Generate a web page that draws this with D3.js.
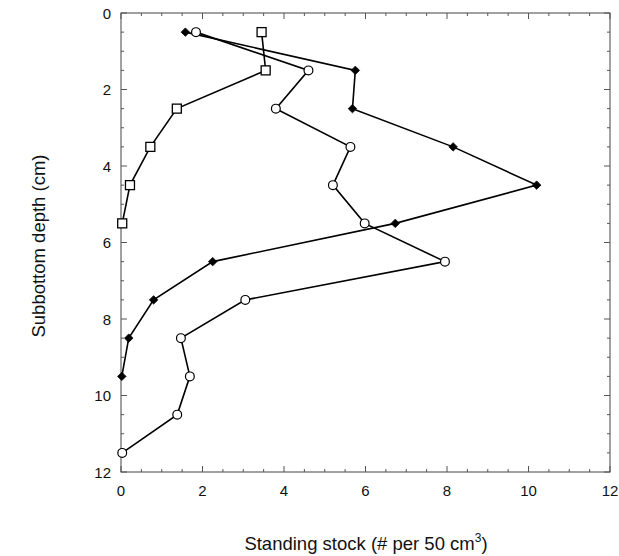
<!DOCTYPE html>
<html>
<head>
<meta charset="utf-8">
<script src="https://cdn.jsdelivr.net/npm/d3@7"></script>
<style>
  html, body { margin: 0; padding: 0; background: #fff; }
  svg { display: block; }
  text { font-family: "Liberation Sans", Arial, Helvetica, sans-serif; fill: #111; }
</style>
</head>
<body>
<svg id="chart" width="619" height="556"></svg>
<script>
// Depth of each sample interval midpoint (cm)
const depthSquares  = [0.5, 1.5, 2.5, 3.5, 4.5, 5.5];
const stockSquares  = [3.45, 3.55, 1.37, 0.72, 0.22, 0.03];

const depthDiamonds = [0.5, 1.5, 2.5, 3.5, 4.5, 5.5, 6.5, 7.5, 8.5, 9.5];
const stockDiamonds = [1.58, 5.75, 5.68, 8.15, 10.2, 6.73, 2.25, 0.8, 0.19, 0.02];

const depthCircles  = [0.5, 1.5, 2.5, 3.5, 4.5, 5.5, 6.5, 7.5, 8.5, 9.5, 10.5, 11.5];
const stockCircles  = [1.84, 4.6, 3.8, 5.63, 5.2, 5.98, 7.95, 3.05, 1.47, 1.69, 1.38, 0.03];

const xTickValues = [0, 2, 4, 6, 8, 10, 12];
const yTickValues = [0, 2, 4, 6, 8, 10, 12];

const xLabel = "Standing stock (# per 50 cm";
const yLabel = "Subbottom depth (cm)";

const svg = d3.select("#chart");
const plotLeft = 121, plotRight = 610, plotTop = 13, plotBottom = 472;

const x = d3.scaleLinear().domain([0, 12]).range([plotLeft, plotRight]);
const y = d3.scaleLinear().domain([0, 12]).range([plotTop, plotBottom]);

// frame
svg.append("rect")
  .attr("x", plotLeft).attr("y", plotTop)
  .attr("width", plotRight - plotLeft).attr("height", plotBottom - plotTop)
  .attr("fill", "none").attr("stroke", "#444").attr("stroke-width", 1);

// inward ticks on all four sides: major every 2, minor every 0.5
const minor = d3.range(0, 12.01, 0.5);
const tickG = svg.append("g").attr("stroke", "#555").attr("stroke-width", 1);
minor.forEach(v => {
  const isMajor = Math.abs(v % 2) < 1e-9;
  const len = isMajor ? 6 : 3;
  tickG.append("line").attr("x1", x(v)).attr("x2", x(v)).attr("y1", plotBottom).attr("y2", plotBottom - len);
  tickG.append("line").attr("x1", x(v)).attr("x2", x(v)).attr("y1", plotTop).attr("y2", plotTop + len);
  tickG.append("line").attr("y1", y(v)).attr("y2", y(v)).attr("x1", plotLeft).attr("x2", plotLeft + len);
  tickG.append("line").attr("y1", y(v)).attr("y2", y(v)).attr("x1", plotRight).attr("x2", plotRight - len);
});

// tick labels
svg.append("g").selectAll("text").data(xTickValues).join("text")
  .attr("x", d => x(d)).attr("y", 496)
  .attr("text-anchor", "middle")
  .attr("font-size", 15)
  .text(d => d);

svg.append("g").selectAll("text").data(yTickValues).join("text")
  .attr("x", 111).attr("y", d => y(d) + 5.5)
  .attr("text-anchor", "end")
  .attr("font-size", 15)
  .text(d => d);

// axis titles
const xt = svg.append("text")
  .attr("x", 366).attr("y", 550)
  .attr("text-anchor", "middle")
  .attr("font-size", 18.5);
xt.append("tspan").text(xLabel);
xt.append("tspan").attr("font-size", 12).attr("dy", -8).text("3");
xt.append("tspan").attr("dy", 8).text(")");

svg.append("text")
  .attr("transform", "translate(45,246) rotate(-90)")
  .attr("text-anchor", "middle")
  .attr("font-size", 18.5)
  .text(yLabel);

const line = d3.line().x(d => x(d[0])).y(d => y(d[1]));
const plot = svg.append("g");

function series(stock, depth) {
  return stock.map((s, i) => [s, depth[i]]);
}
const sq = series(stockSquares, depthSquares);
const di = series(stockDiamonds, depthDiamonds);
const ci = series(stockCircles, depthCircles);

[sq, di, ci].forEach(pts => {
  plot.append("path").datum(pts)
    .attr("d", line)
    .attr("fill", "none").attr("stroke", "#000").attr("stroke-width", 1.6);
});

// open squares
plot.append("g").selectAll("rect").data(sq).join("rect")
  .attr("x", d => x(d[0]) - 4.5).attr("y", d => y(d[1]) - 4.5)
  .attr("width", 9).attr("height", 9)
  .attr("fill", "#fff").attr("stroke", "#000").attr("stroke-width", 1.3);

// filled diamonds
const diamond = d3.symbol().type(d3.symbolDiamond2).size(46);
plot.append("g").selectAll("path").data(di).join("path")
  .attr("transform", d => `translate(${x(d[0])},${y(d[1])})`)
  .attr("d", diamond)
  .attr("fill", "#000").attr("stroke", "#000").attr("stroke-width", 0.8);

// open circles
plot.append("g").selectAll("circle").data(ci).join("circle")
  .attr("cx", d => x(d[0])).attr("cy", d => y(d[1]))
  .attr("r", 4.4)
  .attr("fill", "#fff").attr("stroke", "#000").attr("stroke-width", 1.2);
</script>
</body>
</html>
